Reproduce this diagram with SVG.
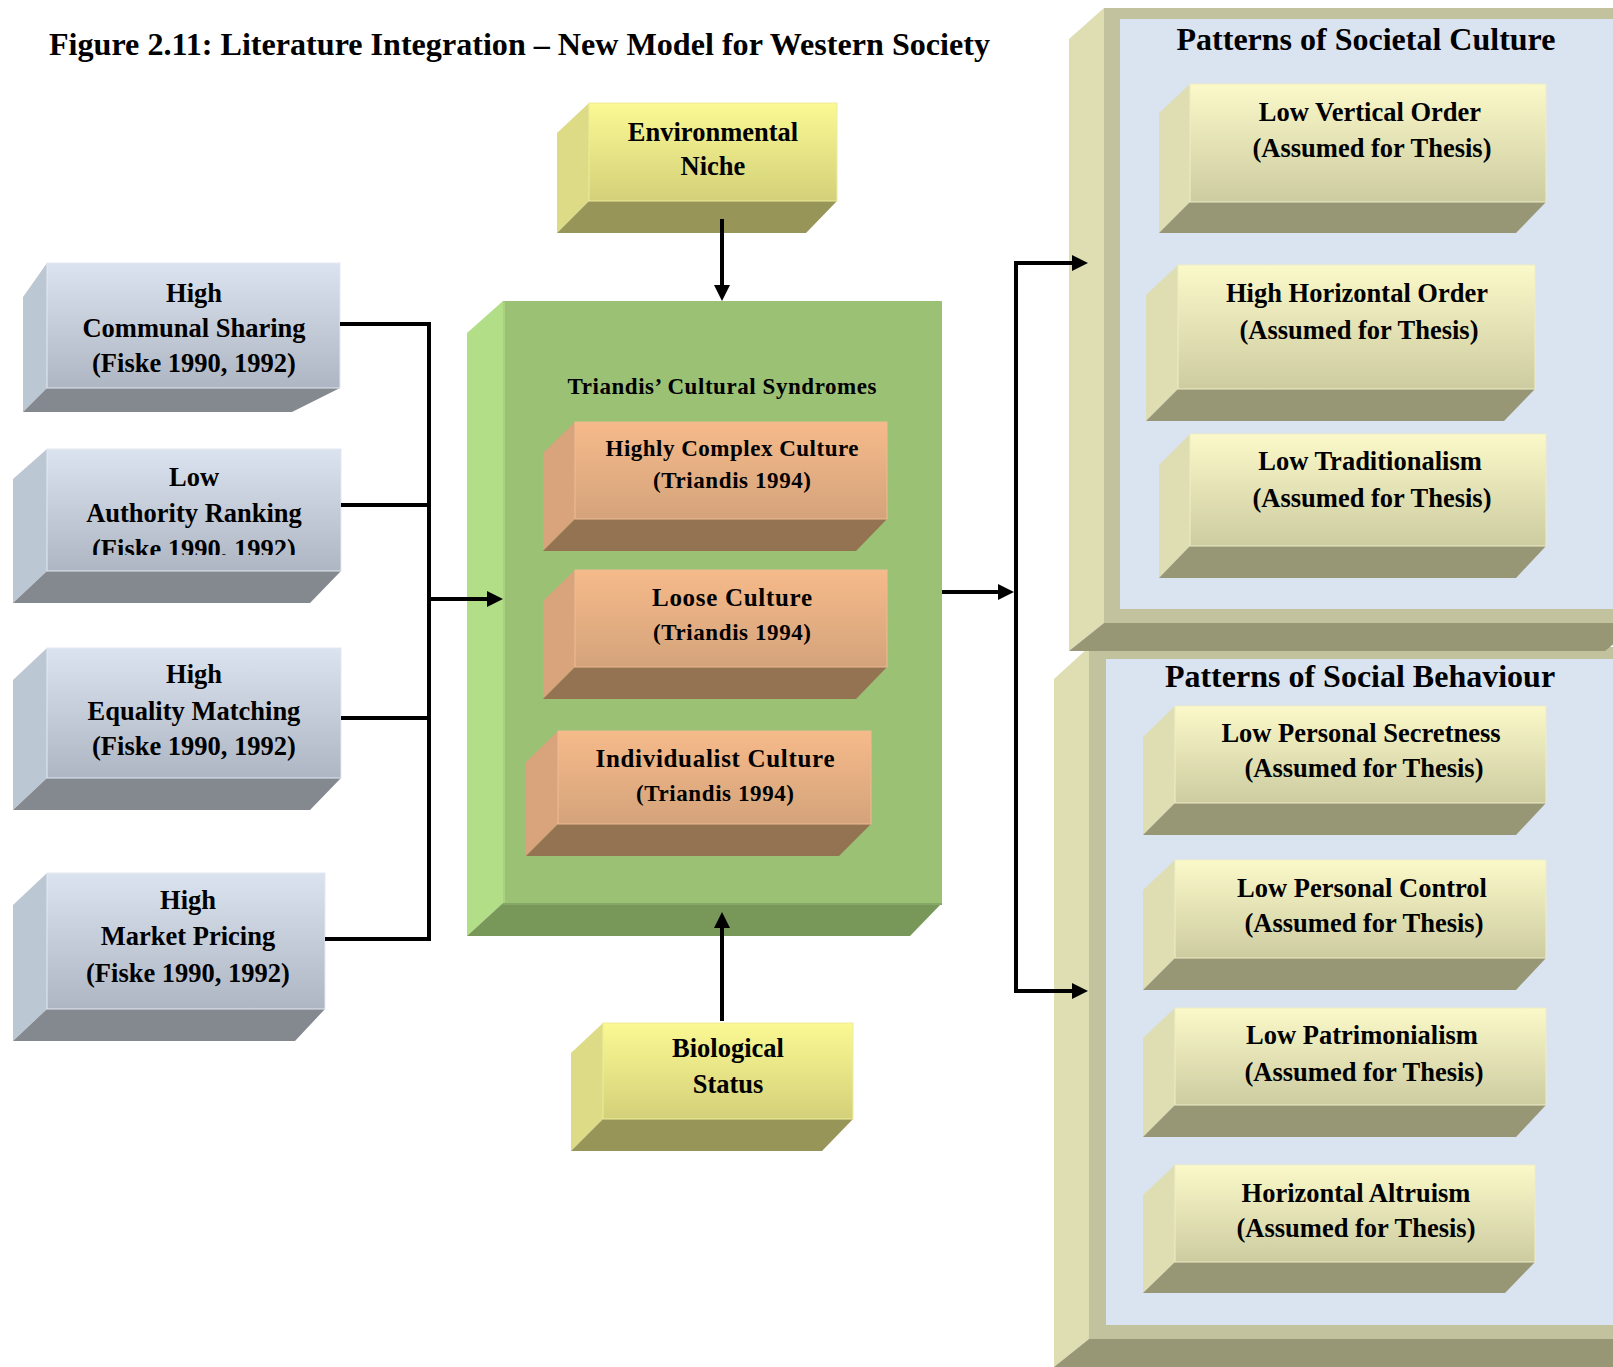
<svg xmlns="http://www.w3.org/2000/svg" width="1613" height="1367" viewBox="0 0 1613 1367">
<defs>
<style>
text{font-family:"Liberation Serif","Times New Roman",serif;font-weight:bold;fill:#000;text-anchor:middle}
.lbl{font-size:26.5px}
.ttl{font-size:32px}
.sm{font-size:23px}
.md{font-size:25px}
.fig{font-size:31px;text-anchor:start}
.bl-f{fill:url(#gBlue);stroke:#e3e9f1;stroke-width:1}
.bl-s{fill:#bcc7d4}
.bl-b{fill:#84888f}
.ye-f{fill:url(#gYellow);stroke:#eeec9c;stroke-width:1}
.ye-s{fill:#dedb86}
.ye-b{fill:#979557}
.pa-f{fill:url(#gPale);stroke:#eeedc6;stroke-width:1}
.pa-s{fill:#dfdeb2}
.pa-b{fill:#979675}
.or-f{fill:url(#gOrange);stroke:#eebb93;stroke-width:1}
.or-s{fill:#d9a47b}
.or-b{fill:#947353}
.gr-f{fill:#9bc174}
.gr-s{fill:#b2de87}
.gr-b{fill:#78985a}
.fr-f{fill:#c3c29e}
.fr-s{fill:#dfdeb2}
.fr-b{fill:#979675}
.fr-in{fill:#dae3f0}
.con{fill:none;stroke:#000;stroke-width:4}
.arr{fill:none;stroke:#000;stroke-width:4;marker-end:url(#ah)}
</style>
<linearGradient id="gBlue" x1="0" y1="0" x2="0" y2="1"><stop offset="0" stop-color="#dae3ef"/><stop offset="1" stop-color="#afb6c3"/></linearGradient>
<linearGradient id="gYellow" x1="0" y1="0" x2="0" y2="1"><stop offset="0" stop-color="#fbf993"/><stop offset="1" stop-color="#d3d07a"/></linearGradient>
<linearGradient id="gPale" x1="0" y1="0" x2="0" y2="1"><stop offset="0" stop-color="#fbf9c9"/><stop offset="1" stop-color="#cdcca1"/></linearGradient>
<linearGradient id="gOrange" x1="0" y1="0" x2="0" y2="1"><stop offset="0" stop-color="#f6ba8a"/><stop offset="1" stop-color="#d4a37b"/></linearGradient>
<marker id="ah" markerUnits="userSpaceOnUse" markerWidth="16" markerHeight="16" viewBox="0 0 16 16" refX="8" refY="8" orient="auto"><path d="M0,0 L16,8 L0,16 z" fill="#000"/></marker>
<clipPath id="clipB"><rect x="0" y="440" width="400" height="115"/></clipPath>
</defs>
<rect width="1613" height="1367" fill="#fff"/>

<text class="fig" x="49" y="55" textLength="941" lengthAdjust="spacingAndGlyphs">Figure 2.11: Literature Integration – New Model for Western Society</text>

<!-- Right panels -->
<g id="panel-social-behaviour">
<polygon class="fr-s" points="1089,647 1054,679 1054,1367 1089,1339"/>
<polygon class="fr-b" points="1089,1339 1640,1339 1640,1367 1054,1367"/>
<rect class="fr-f" x="1089" y="647" width="560" height="692"/>
<rect class="fr-in" x="1106" y="659" width="540" height="666"/>
<text class="ttl" x="1360" y="687">Patterns of Social Behaviour</text>
</g>
<g id="panel-societal-culture">
<polygon class="fr-s" points="1104,8 1069,39 1069,651 1104,623"/>
<polygon class="fr-b" points="1104,623 1640,623 1605,651 1069,651"/>
<rect class="fr-f" x="1104" y="8" width="540" height="615"/>
<rect class="fr-in" x="1120" y="19" width="520" height="590"/>
<text class="ttl" x="1366" y="50">Patterns of Societal Culture</text>
</g>

<g id="n-low-vertical-order">
<polygon class="pa-s" points="1190,84 1159,113 1159,233 1190,202"/>
<polygon class="pa-b" points="1190,202 1546,202 1516,233 1159,233"/>
<rect class="pa-f" x="1190" y="84" width="356" height="118"/>
<text class="lbl" x="1370" y="121">Low Vertical Order</text>
<text class="lbl" x="1372" y="157">(Assumed for Thesis)</text>
</g>
<g id="n-high-horizontal-order">
<polygon class="pa-s" points="1178,265 1146,295 1146,421 1178,389"/>
<polygon class="pa-b" points="1178,389 1535,389 1504,421 1146,421"/>
<rect class="pa-f" x="1178" y="265" width="357" height="124"/>
<text class="lbl" x="1357" y="302">High Horizontal Order</text>
<text class="lbl" x="1359" y="339">(Assumed for Thesis)</text>
</g>
<g id="n-low-traditionalism">
<polygon class="pa-s" points="1190,434 1159,465 1159,578 1190,546"/>
<polygon class="pa-b" points="1190,546 1546,546 1516,578 1159,578"/>
<rect class="pa-f" x="1190" y="434" width="356" height="112"/>
<text class="lbl" x="1370" y="470">Low Traditionalism</text>
<text class="lbl" x="1372" y="507">(Assumed for Thesis)</text>
</g>
<g id="n-low-personal-secretness">
<polygon class="pa-s" points="1175,706 1143,737 1143,835 1175,803"/>
<polygon class="pa-b" points="1175,803 1546,803 1516,835 1143,835"/>
<rect class="pa-f" x="1175" y="706" width="371" height="97"/>
<text class="lbl" x="1361" y="742">Low Personal Secretness</text>
<text class="lbl" x="1364" y="777">(Assumed for Thesis)</text>
</g>
<g id="n-low-personal-control">
<polygon class="pa-s" points="1175,860 1143,890 1143,990 1175,958"/>
<polygon class="pa-b" points="1175,958 1546,958 1516,990 1143,990"/>
<rect class="pa-f" x="1175" y="860" width="371" height="98"/>
<text class="lbl" x="1362" y="897">Low Personal Control</text>
<text class="lbl" x="1364" y="932">(Assumed for Thesis)</text>
</g>
<g id="n-low-patrimonialism">
<polygon class="pa-s" points="1175,1008 1143,1038 1143,1137 1175,1105"/>
<polygon class="pa-b" points="1175,1105 1546,1105 1516,1137 1143,1137"/>
<rect class="pa-f" x="1175" y="1008" width="371" height="97"/>
<text class="lbl" x="1362" y="1044">Low Patrimonialism</text>
<text class="lbl" x="1364" y="1081">(Assumed for Thesis)</text>
</g>
<g id="n-horizontal-altruism">
<polygon class="pa-s" points="1175,1165 1143,1195 1143,1293 1175,1262"/>
<polygon class="pa-b" points="1175,1262 1535,1262 1505,1293 1143,1293"/>
<rect class="pa-f" x="1175" y="1165" width="360" height="97"/>
<text class="lbl" x="1356" y="1202">Horizontal Altruism</text>
<text class="lbl" x="1356" y="1237">(Assumed for Thesis)</text>
</g>

<!-- Left boxes -->
<g id="n-communal-sharing">
<polygon class="bl-s" points="47,263 23,297 23,412 47,388"/>
<polygon class="bl-b" points="47,388 340,388 292,412 23,412"/>
<rect class="bl-f" x="47" y="263" width="293" height="125"/>
<text class="lbl" x="194" y="302">High</text>
<text class="lbl" x="194" y="337">Communal Sharing</text>
<text class="lbl" x="194" y="372">(Fiske 1990, 1992)</text>
</g>
<g id="n-authority-ranking">
<polygon class="bl-s" points="47,449 13,479 13,603 47,571"/>
<polygon class="bl-b" points="47,571 341,571 310,603 13,603"/>
<rect class="bl-f" x="47" y="449" width="294" height="122"/>
<text class="lbl" x="194" y="486">Low</text>
<text class="lbl" x="194" y="522">Authority Ranking</text>
<text class="lbl" x="194" y="558" clip-path="url(#clipB)">(Fiske 1990, 1992)</text>
</g>
<g id="n-equality-matching">
<polygon class="bl-s" points="47,648 13,680 13,810 47,778"/>
<polygon class="bl-b" points="47,778 341,778 310,810 13,810"/>
<rect class="bl-f" x="47" y="648" width="294" height="130"/>
<text class="lbl" x="194" y="683">High</text>
<text class="lbl" x="194" y="720">Equality Matching</text>
<text class="lbl" x="194" y="755">(Fiske 1990, 1992)</text>
</g>
<g id="n-market-pricing">
<polygon class="bl-s" points="47,873 13,905 13,1041 47,1009"/>
<polygon class="bl-b" points="47,1009 325,1009 295,1041 13,1041"/>
<rect class="bl-f" x="47" y="873" width="278" height="136"/>
<text class="lbl" x="188" y="909">High</text>
<text class="lbl" x="188" y="945">Market Pricing</text>
<text class="lbl" x="188" y="982">(Fiske 1990, 1992)</text>
</g>

<!-- Top / bottom yellow -->
<g id="n-environmental-niche">
<polygon class="ye-s" points="589,103 557,133 557,233 589,201"/>
<polygon class="ye-b" points="589,201 837,201 806,233 557,233"/>
<rect class="ye-f" x="589" y="103" width="248" height="98"/>
<text class="lbl" x="713" y="141">Environmental</text>
<text class="lbl" x="713" y="175">Niche</text>
</g>
<g id="n-biological-status">
<polygon class="ye-s" points="603,1023 571,1053 571,1151 603,1119"/>
<polygon class="ye-b" points="603,1119 853,1119 822,1151 571,1151"/>
<rect class="ye-f" x="603" y="1023" width="250" height="96"/>
<text class="lbl" x="728" y="1057">Biological</text>
<text class="lbl" x="728" y="1093">Status</text>
</g>

<!-- Centre green -->
<g id="n-triandis">
<polygon class="gr-s" points="503,301 467,333 467,936 503,903"/>
<polygon class="gr-b" points="503,903 942,903 910,936 467,936"/>
<rect class="gr-f" x="503" y="301" width="439" height="602"/>
<line x1="504" y1="302" x2="504" y2="903" stroke="#a9d180" stroke-width="2"/>
<line x1="503" y1="904" x2="942" y2="904" stroke="#86a866" stroke-width="2"/>
<text x="722" y="394" textLength="309" lengthAdjust="spacing" font-size="23">Triandis’ Cultural Syndromes</text>
</g>
<g id="n-highly-complex">
<polygon class="or-s" points="575,422 543,453 543,551 575,519"/>
<polygon class="or-b" points="575,519 887,519 856,551 543,551"/>
<rect class="or-f" x="575" y="422" width="312" height="97"/>
<text class="sm" x="732" y="456" textLength="253" lengthAdjust="spacing">Highly Complex Culture</text>
<text class="sm" x="732" y="488" textLength="158" lengthAdjust="spacing">(Triandis 1994)</text>
</g>
<g id="n-loose">
<polygon class="or-s" points="575,570 543,601 543,699 575,667"/>
<polygon class="or-b" points="575,667 887,667 856,699 543,699"/>
<rect class="or-f" x="575" y="570" width="312" height="97"/>
<text class="md" x="732" y="606" textLength="160" lengthAdjust="spacing">Loose Culture</text>
<text class="sm" x="732" y="640" textLength="158" lengthAdjust="spacing">(Triandis 1994)</text>
</g>
<g id="n-individualist">
<polygon class="or-s" points="558,731 526,762 526,856 558,824"/>
<polygon class="or-b" points="558,824 871,824 839,856 526,856"/>
<rect class="or-f" x="558" y="731" width="313" height="93"/>
<text class="md" x="715" y="767" textLength="239" lengthAdjust="spacing">Individualist Culture</text>
<text class="sm" x="715" y="801" textLength="158" lengthAdjust="spacing">(Triandis 1994)</text>
</g>

<!-- Connectors -->
<g id="connectors">
<path class="con" d="M340,324 H429 V939 H325"/>
<path class="con" d="M341,505 H429"/>
<path class="con" d="M341,718 H429"/>
<path class="arr" d="M429,599 H495"/>
<path class="arr" d="M722,219 V293"/>
<path class="arr" d="M722,1021 V920"/>
<path class="arr" d="M942,592 H1006"/>
<path class="con" d="M1016,592 V263 H1078"/>
<path class="con" d="M1016,592 V991 H1078"/>
<path class="arr" d="M1070,263 H1080"/>
<path class="arr" d="M1070,991 H1080"/>
</g>
</svg>
